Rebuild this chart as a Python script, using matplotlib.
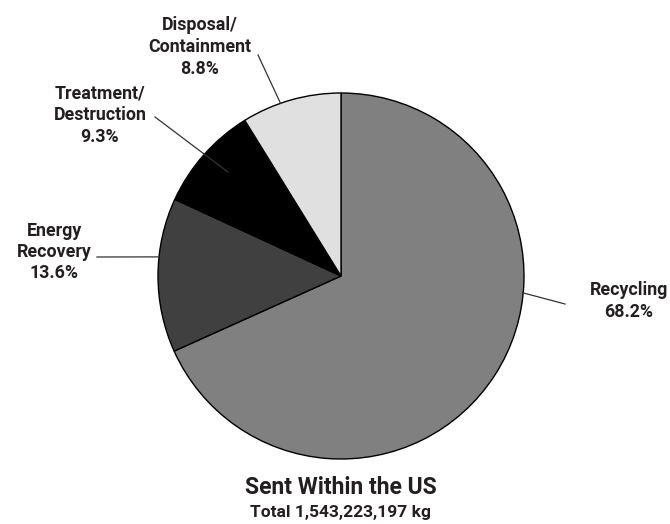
import numpy as np
import matplotlib
matplotlib.use("Agg")
import matplotlib.pyplot as plt

# data
categories = ["Recycling", "Energy\nRecovery", "Treatment/\nDestruction", "Disposal/\nContainment"]
shares = [68.2, 13.6, 9.3, 8.8]
colors = ["#808080", "#404040", "#000000", "#e0e0e0"]
title = "Sent Within the US"
subtitle = "Total 1,543,223,197 kg"

# layout (pixel coords, y from top)
W, H = 670, 524
cx, cy, r = 341, 276, 183
label_xy = [(629, 301), (54, 252), (100, 115), (200, 47)]
anchor_ang = [-5.3, 174.0, 137.4, 109.3]   # degrees, where the leader touches the pie
anchor_rad = [1.0, 1.0, 0.84, 1.0]
line_end = [(565, 304), (97, 257), (155, 117), (258, 55)]

plt.rcParams["font.family"] = ["Roboto", "DejaVu Sans"]
TXT = "#231f20"

fig = plt.figure(figsize=(W / 100, H / 100), dpi=100)
ax = fig.add_axes([0, 0, 1, 1])

ax.pie(shares, colors=colors, startangle=90, counterclock=False,
       center=(cx, H - cy), radius=r,
       wedgeprops=dict(edgecolor="black", linewidth=1.0))

for name, val, (lx, ly), ang, rf, (ex, ey) in zip(categories, shares, label_xy,
                                                  anchor_ang, anchor_rad, line_end):
    px = cx + rf * r * np.cos(np.radians(ang))
    py = (H - cy) + rf * r * np.sin(np.radians(ang))
    ax.plot([px, ex], [py, H - ey], color="#333333", linewidth=0.9)
    ax.text(lx, H - ly, f"{name}\n{val}%", ha="center", va="center",
            fontsize=12.8, fontweight="bold", color=TXT, linespacing=1.25)

ax.text(cx, H - 487, title, ha="center", va="center", fontsize=16.5,
        fontweight="bold", color=TXT)
ax.text(cx, H - 513, subtitle, ha="center", va="center", fontsize=12.5,
        fontweight="bold", color=TXT)

ax.set_xlim(0, W)
ax.set_ylim(0, H)
ax.set_aspect("equal")
ax.axis("off")

fig.savefig("out.png", dpi=100)
